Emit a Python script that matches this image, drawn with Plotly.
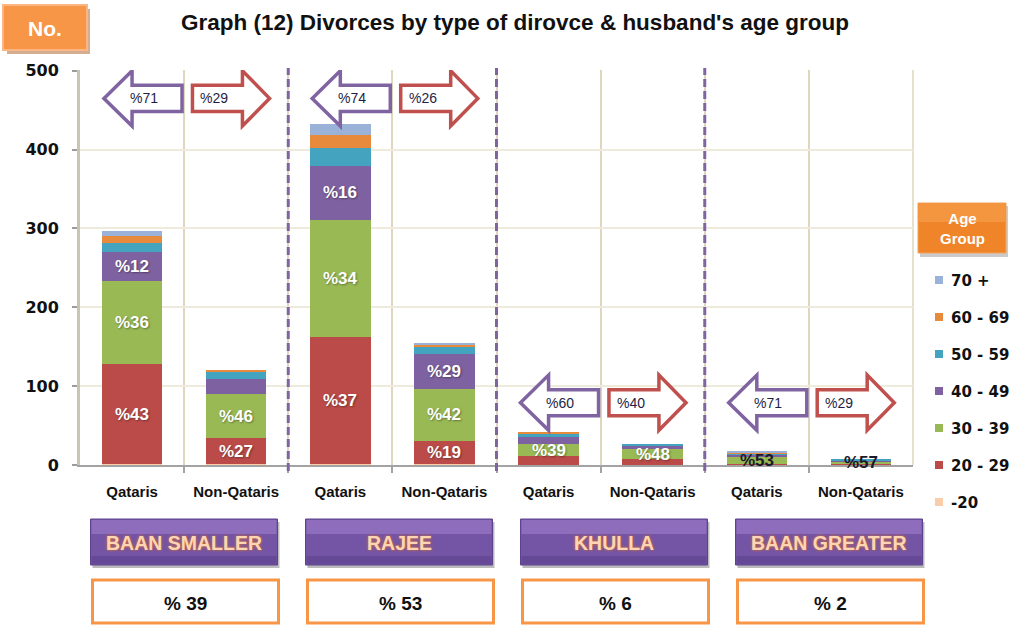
import plotly.graph_objects as go

# ---- data -------------------------------------------------------------
type_names = ["BAAN SMALLER", "RAJEE", "KHULLA", "BAAN GREATER"]
type_share = [39, 53, 6, 2]          # share of all divorces, per type
nationality = ["Qataris", "Non-Qataris"]
age_groups = ["-20", "20 - 29", "30 - 39", "40 - 49", "50 - 59", "60 - 69", "70 +"]

# divorces per bar: (type, nationality) pairs in the order above
under_20 = [1, 1, 1, 1, 0, 0, 0, 0]
age_20_29 = [127, 33, 161, 30, 11, 7, 1, 1]
age_30_39 = [106, 56, 149, 65, 16, 13, 9, 4]
age_40_49 = [36, 19, 68, 45, 8, 5, 3, 1]
age_50_59 = [12, 9, 23, 9, 5, 2, 2, 1]
age_60_69 = [8, 3, 16, 3, 1, 0, 1, 0]
age_70_plus = [7, 0, 15, 1, 0, 0, 1, 0]

y_ticks = [0, 100, 200, 300, 400, 500]

# ---- styling ----------------------------------------------------------
age_colors = ["#F9CDAA", "#BA4B48", "#98B954", "#7E61A0", "#44A3BE", "#E88A3C", "#9AB2D8"]
PURPLE = "#8064A2"
RED = "#C0504D"
ORANGE = "#F79646"
ARIAL = "Liberation Sans, Arial, sans-serif"
NARROW = "Liberation Sans Narrow, Arial Narrow, Liberation Sans, Arial, sans-serif"
VERDANA = "DejaVu Sans, Verdana, sans-serif"

W, H = 1013, 625
ML, MR, MT, MB = 80, 100, 70, 160
PW, PH = W - ML - MR, H - MT - MB


def fx(px):
    """pixel x -> paper x"""
    return (px - ML) / PW


def fy(py):
    """pixel y -> paper y"""
    return (H - MB - py) / PH


def paper_text(fig, px, py, text, font, xanchor="center"):
    fig.add_annotation(xref="paper", yref="paper", x=fx(px), y=fy(py),
                       xanchor=xanchor, yanchor="middle", text=text,
                       showarrow=False, font=font)


series = [under_20, age_20_29, age_30_39, age_40_49, age_50_59, age_60_69, age_70_plus]
n_bars = len(type_names) * len(nationality)
xpos = list(range(n_bars))
tick_text = [nationality[i % 2] for i in xpos]
totals = [sum(s[i] for s in series) for i in xpos]

fig = go.Figure()

for name, vals, color in zip(age_groups, series, age_colors):
    fig.add_trace(go.Bar(
        x=xpos, y=vals, name=name, width=0.58,
        marker=dict(color=color, line=dict(width=0)),
        showlegend=False,
    ))

# percentage labels inside the stacked segments
base = [0] * n_bars
for name, vals in zip(age_groups, series):
    for i, v in enumerate(vals):
        if v >= 25 or name == "30 - 39":
            pct = round(100 * v / totals[i])
            small = totals[i] < 20
            fig.add_annotation(
                x=i, y=base[i] + v / 2, text=f"%{pct}", showarrow=False,
                xanchor="center", yanchor="middle",
                font=dict(family=NARROW, size=17, weight="bold",
                          color="#1a1a2a" if small else "white",
                          shadow="none" if small else "1px 1px 2px rgba(0,0,0,0.35)"),
            )
        base[i] += v

shapes = []

# group separators (dashed purple)
for g in range(1, len(type_names)):
    xb = 2 * g - 0.5
    shapes.append(dict(type="line", xref="x", yref="paper", x0=xb, x1=xb,
                       y0=fy(471), y1=fy(68), layer="above",
                       line=dict(color=PURPLE, width=3, dash="8px,4px")))
# right border of the plot area
shapes.append(dict(type="line", xref="paper", yref="paper", x0=1, x1=1, y0=0, y1=1,
                   layer="below", line=dict(color="#DDD7BD", width=1.5)))

# share arrows: Qataris (left, purple) vs Non-Qataris (right, red)
arrow_level = [465, 465, 79, 79]
HH, BH = 35, 16.5
arrow_font = dict(family=ARIAL, size=14, color="#1E1E46")
for g in range(len(type_names)):
    q, nq = 2 * g, 2 * g + 1
    grp_total = totals[q] + totals[nq]
    cy = arrow_level[g]
    # left arrow
    tip, hb, br = q - 0.27, q + 0.0, q + 0.48
    path = (f"M {tip},{cy} L {hb},{cy + HH} L {hb},{cy + BH} L {br},{cy + BH} "
            f"L {br},{cy - BH} L {hb},{cy - BH} L {hb},{cy - HH} Z")
    shapes.append(dict(type="path", xref="x", yref="y", path=path, layer="above",
                       fillcolor="white", line=dict(color=PURPLE, width=3.5)))
    fig.add_annotation(x=q + 0.11, y=cy, text=f"%{round(100 * totals[q] / grp_total)}",
                       xanchor="center", yanchor="middle",
                       showarrow=False, font=arrow_font)
    # right arrow
    bl, hb, tip = nq - 0.42, nq + 0.06, nq + 0.32
    path = (f"M {tip},{cy} L {hb},{cy + HH} L {hb},{cy + BH} L {bl},{cy + BH} "
            f"L {bl},{cy - BH} L {hb},{cy - BH} L {hb},{cy - HH} Z")
    shapes.append(dict(type="path", xref="x", yref="y", path=path, layer="above",
                       fillcolor="white", line=dict(color=RED, width=3.5)))
    fig.add_annotation(x=nq - 0.21, y=cy, text=f"%{round(100 * totals[nq] / grp_total)}",
                       xanchor="center", yanchor="middle",
                       showarrow=False, font=arrow_font)

# divorce type buttons and their shares
for g, (tname, share) in enumerate(zip(type_names, type_share)):
    cx = 184 + 215 * g
    shapes.append(dict(type="rect", xref="paper", yref="paper",
                       x0=fx(cx - 91.5), x1=fx(cx + 95.5), y0=fy(568), y1=fy(522),
                       fillcolor="rgba(60,60,60,0.35)", line=dict(width=0)))
    shapes.append(dict(type="rect", xref="paper", yref="paper",
                       x0=fx(cx - 93.5), x1=fx(cx + 93.5), y0=fy(565), y1=fy(519),
                       fillcolor="#7454A4", line=dict(color="#5D438E", width=1)))
    shapes.append(dict(type="rect", xref="paper", yref="paper",
                       x0=fx(cx - 92.5), x1=fx(cx + 92.5), y0=fy(534), y1=fy(520),
                       fillcolor="#9576C4", opacity=0.75, line=dict(width=0)))
    shapes.append(dict(type="rect", xref="paper", yref="paper",
                       x0=fx(cx - 92.5), x1=fx(cx + 92.5), y0=fy(564), y1=fy(556),
                       fillcolor="#5F4590", opacity=0.7, line=dict(width=0)))
    paper_text(fig, cx, 543, tname,
               dict(family=ARIAL, size=19.5, weight="bold", color="#FCD6B4",
                    shadow="0px 0px 3px #E8731A"))
    bx = 185.5 + 215 * g
    shapes.append(dict(type="rect", xref="paper", yref="paper",
                       x0=fx(bx - 93), x1=fx(bx + 93), y0=fy(623), y1=fy(580),
                       fillcolor="white", line=dict(color=ORANGE, width=3)))
    paper_text(fig, bx, 603, f"% {share}",
               dict(family=ARIAL, size=19, weight="bold", color="#111111"))

# "No." badge
shapes.append(dict(type="rect", xref="paper", yref="paper",
                   x0=fx(7), x1=fx(90), y0=fy(54), y1=fy(9),
                   fillcolor="#D3AE92", line=dict(width=0)))
shapes.append(dict(type="rect", xref="paper", yref="paper",
                   x0=fx(3), x1=fx(87), y0=fy(50), y1=fy(5),
                   fillcolor=ORANGE, line=dict(color="#FBB683", width=2)))
paper_text(fig, 45, 28, "No.", dict(family=ARIAL, size=21, weight="bold", color="white"))

# title
paper_text(fig, 515, 22, "Graph (12) Divorces by type of dirovce & husband's age group",
           dict(family=ARIAL, size=22.5, weight="bold", color="#111111"))

# legend header
shapes.append(dict(type="rect", xref="paper", yref="paper",
                   x0=fx(920), x1=fx(1008), y0=fy(257), y1=fy(206),
                   fillcolor="rgba(80,80,80,0.3)", line=dict(width=0)))
shapes.append(dict(type="rect", xref="paper", yref="paper",
                   x0=fx(918), x1=fx(1006), y0=fy(253), y1=fy(203),
                   fillcolor="#EF8429", line=dict(color="#F5A35F", width=1)))
shapes.append(dict(type="rect", xref="paper", yref="paper",
                   x0=fx(919), x1=fx(1005), y0=fy(222), y1=fy(204),
                   fillcolor="#F7A050", opacity=0.6, line=dict(width=0)))
paper_text(fig, 962, 228, "Age<br>Group",
           dict(family=ARIAL, size=15, weight="bold", color="white"))

# legend entries, top to bottom: oldest group first
for k, (name, color) in enumerate(zip(age_groups[::-1], age_colors[::-1])):
    yc = 280 + 37 * k
    shapes.append(dict(type="rect", xref="paper", yref="paper",
                       x0=fx(935), x1=fx(943), y0=fy(yc + 4), y1=fy(yc - 4),
                       fillcolor=color, line=dict(width=0)))
    paper_text(fig, 949, yc + 1, name,
               dict(family=VERDANA, size=15, weight="bold", color="#111111"),
               xanchor="left")

fig.update_layout(
    width=W, height=H,
    margin=dict(l=ML, r=MR, t=MT, b=MB, pad=0),
    barmode="stack", bargap=0.42,
    paper_bgcolor="white", plot_bgcolor="white",
    showlegend=False,
    shapes=shapes,
    xaxis=dict(
        range=[-0.5, n_bars - 0.5], tickmode="array", tickvals=xpos, ticktext=tick_text,
        ticks="", showgrid=False, zeroline=False,
        showline=True, linecolor="#A3A3A3", linewidth=2,
        tickfont=dict(family=ARIAL, size=15, weight="bold", color="#111111"),
        ticklabelstandoff=12,
        minor=dict(tickmode="array", tickvals=[i + 0.5 for i in xpos[:-1]],
                   ticks="outside", ticklen=6, tickcolor="#A3A3A3", tickwidth=1.5,
                   showgrid=True, gridcolor="#DDD7BD", gridwidth=1.5),
    ),
    yaxis=dict(
        range=[0, 501], tickmode="array", tickvals=y_ticks,
        ticks="outside", ticklen=5, tickcolor="#9C9C9C", tickwidth=1.5,
        showgrid=True, gridcolor="#EEEBDC", gridwidth=1.5, zeroline=False,
        showline=True, linecolor="#C9C5B4", linewidth=3,
        tickfont=dict(family=VERDANA, size=16, weight="bold", color="#111111"),
        ticklabelstandoff=10,
    ),
)

fig.write_html("out.html")
